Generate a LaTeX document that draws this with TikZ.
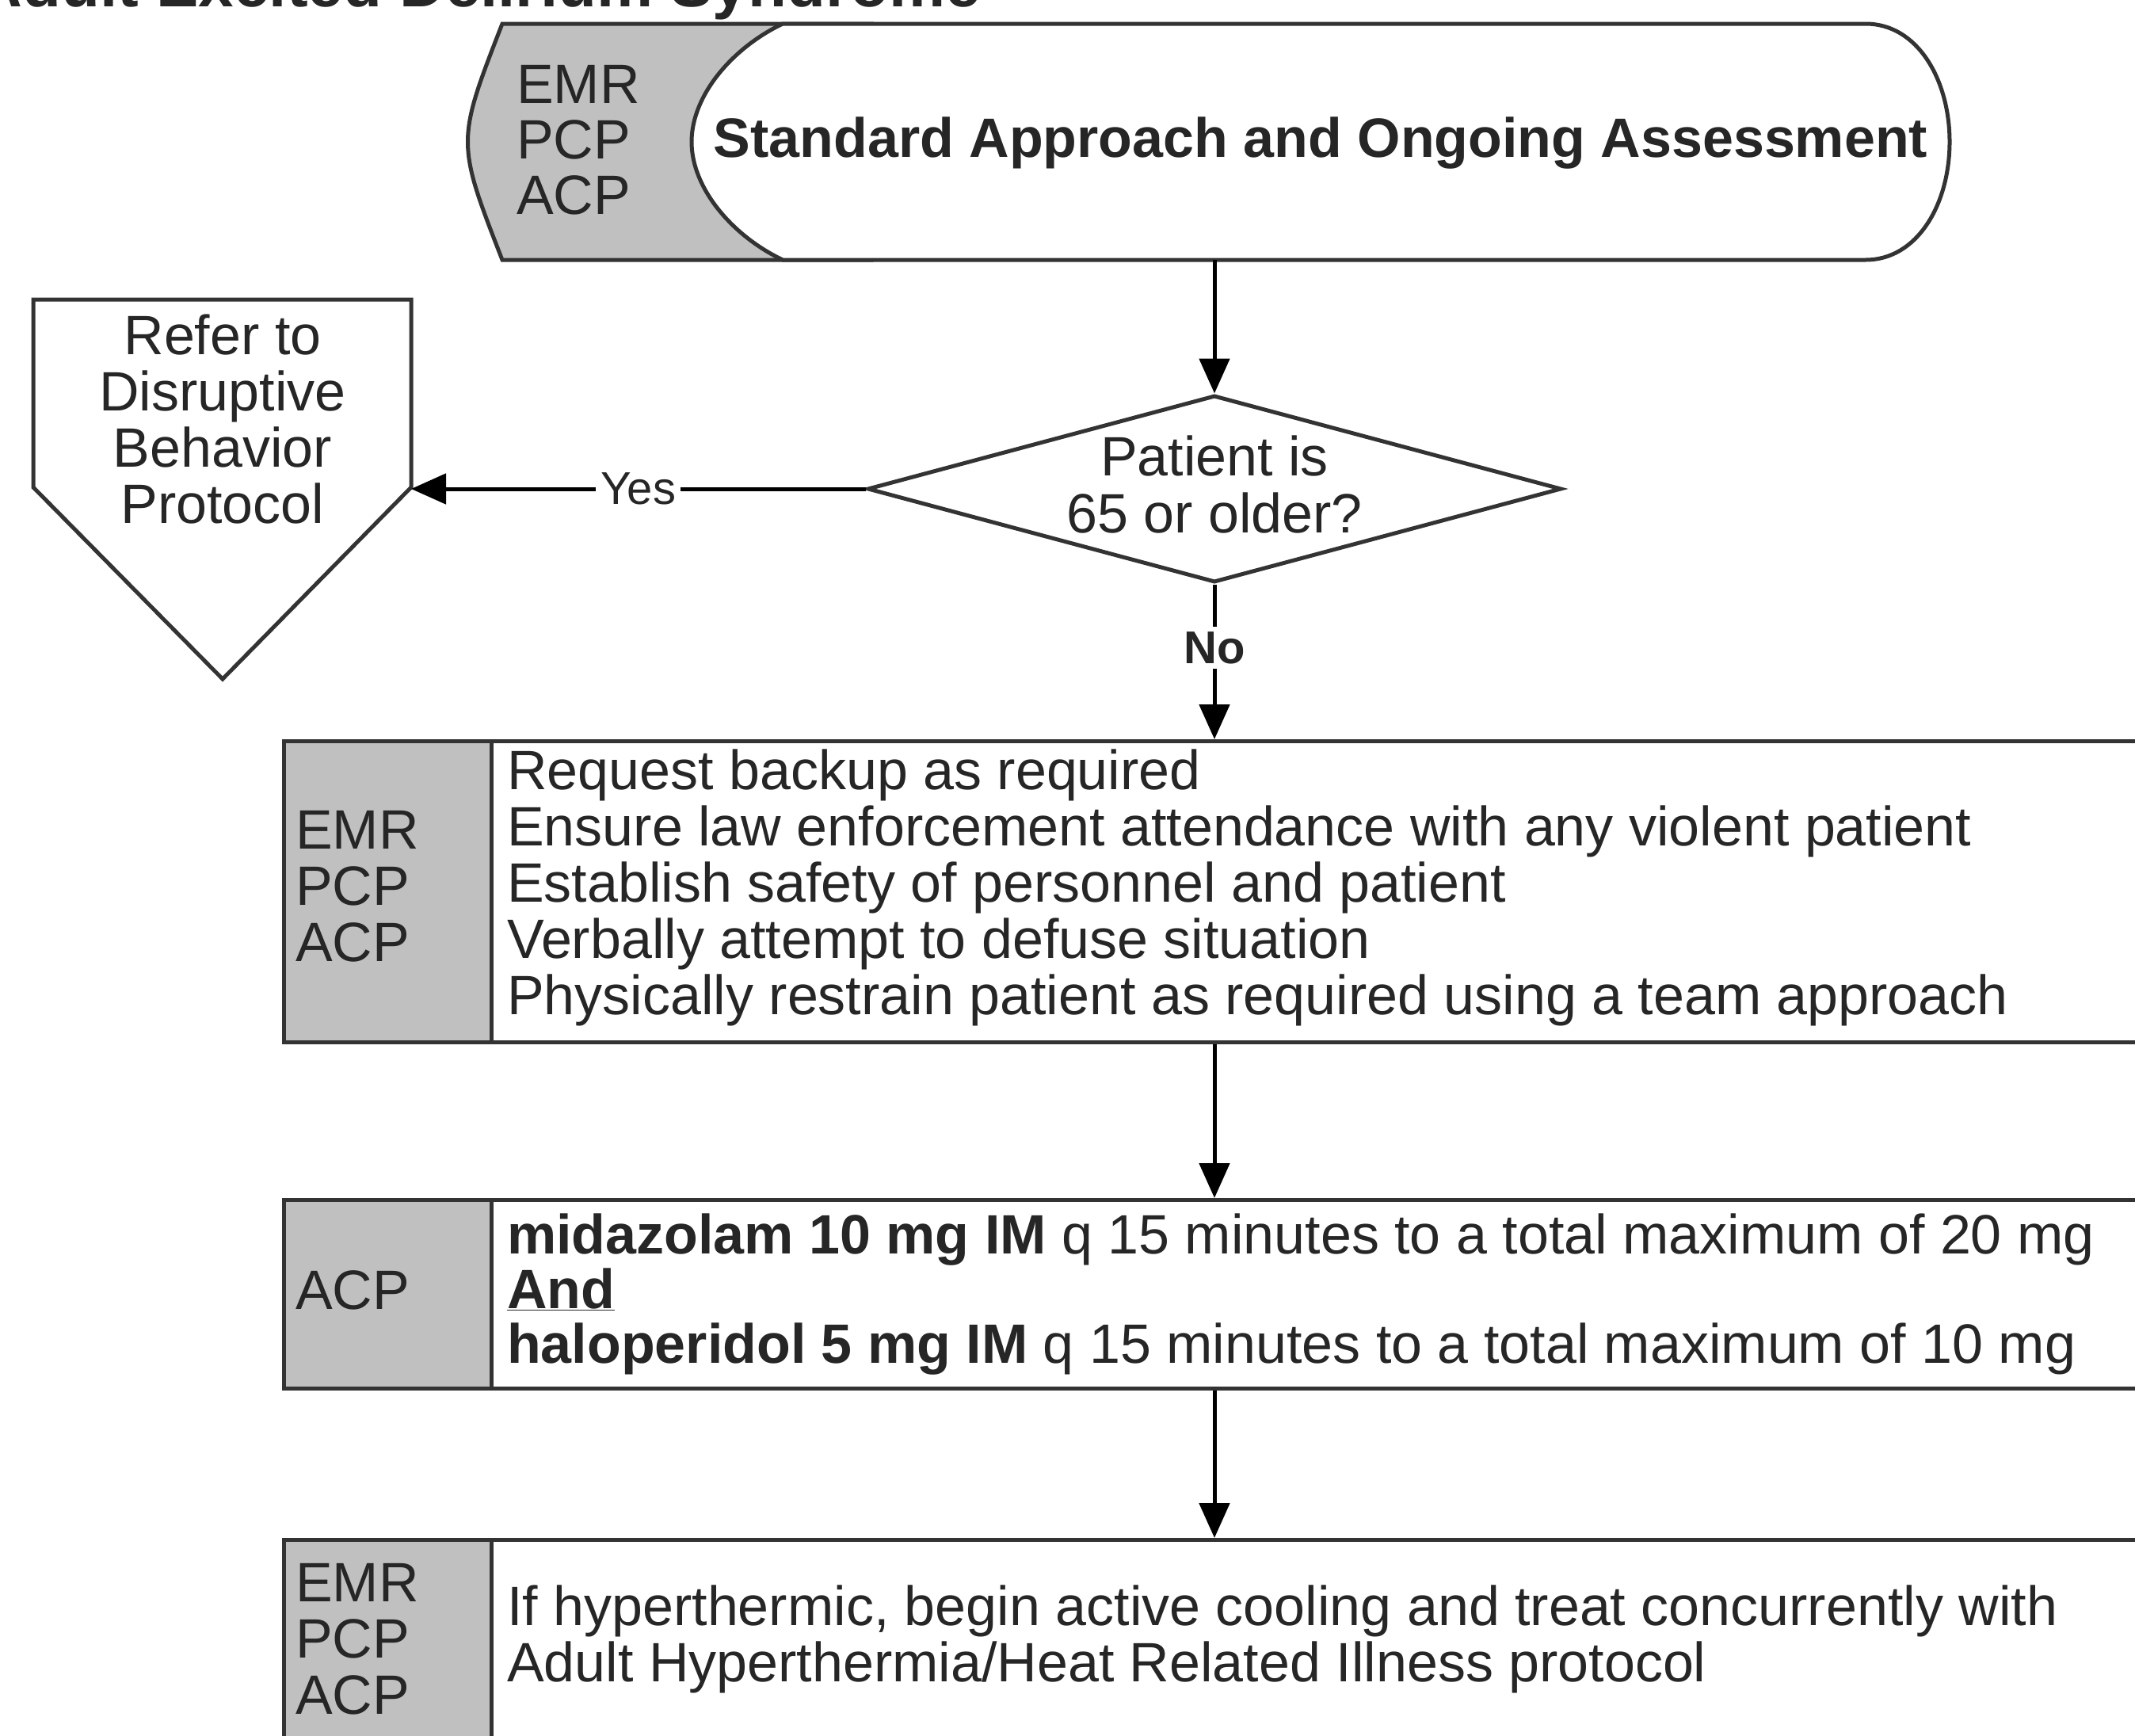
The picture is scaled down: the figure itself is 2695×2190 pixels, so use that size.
\documentclass[tikz,border=0pt]{standalone}
\usepackage{fontspec}
\setmainfont{Liberation Sans}
\usetikzlibrary{arrows.meta,shapes.geometric}
\definecolor{lanegray}{RGB}{192,192,192}
\definecolor{edge}{RGB}{51,51,51}
\definecolor{ink}{RGB}{38,38,38}
\begin{document}
\begin{tikzpicture}[x=1pt,y=-1pt,
  shapeline/.style={draw=edge, line width=5pt, line join=miter},
  rolefill/.style={shapeline, fill=lanegray, rectangle, inner sep=0pt, anchor=north west},
  stepfill/.style={shapeline, fill=white, rectangle, inner sep=0pt, anchor=north west},
  body/.style={font=\fontsize{70}{71}\selectfont, text=ink, inner sep=0pt},
  bodyb/.style={font=\fontsize{70}{71}\selectfont\bfseries, text=ink, inner sep=0pt},
  flow/.style={draw=black, line width=5pt, -{Triangle[length=44pt,width=38pt]}},
  tag/.style={font=\fontsize{58}{60}\selectfont, text=ink, fill=white, inner sep=6pt},
]
\useasboundingbox (0,0) rectangle (2695,2190);
\clip (0,0) rectangle (2695,2190);

% heading, running off the top edge
\node[font=\fontsize{80}{80}\selectfont\bfseries, text=ink, anchor=base east, inner sep=0pt]
  (title) at (1238,8) {Adult Excited Delirium Syndrome};

% ---------- start terminator ----------
\path[shapeline, fill=lanegray] (634,30) -- (1100,30) -- (1100,328) -- (634,328)
  .. controls (576,179) .. (634,30) -- cycle;
\path[shapeline, fill=white] (988,30) -- (2355,30)
  .. controls (2420,30) and (2461,100) .. (2461,179)
  .. controls (2461,258) and (2420,328) .. (2355,328) -- (988,328)
  .. controls (925,298) and (873,238) .. (873,179)
  .. controls (873,120) and (925,60) .. (988,30) -- cycle;
\node[minimum width=1588pt, minimum height=298pt, inner sep=0pt] (start) at (1667,179) {};
\node[bodyb, anchor=base] (start-text) at (1667,198) {Standard Approach and Ongoing Assessment};
\foreach \lbl/\yy [count=\i] in {EMR/130, PCP/200, ACP/270}
  \node[body, anchor=base west] (start-role\i) at (652,\yy) {\lbl};

% ---------- decision ----------
\node[diamond, shapeline, fill=white, minimum width=876pt, minimum height=236pt, inner sep=0pt]
  (q) at (1533,617) {};
\node[body, anchor=base] (q-line1) at (1533,600) {Patient is};
\node[body, anchor=base] (q-line2) at (1533,672) {65 or older?};

% ---------- off-page reference ----------
\path[shapeline, fill=white] (42,378) -- (519,378) -- (519,615) -- (281,857) -- (42,615) -- cycle;
\coordinate (refer-in) at (519,617);
\foreach \txt/\yy [count=\i] in {Refer to/447, Disruptive/518, Behavior/589, Protocol/660}
  \node[body, anchor=base] (refer-line\i) at (281,\yy) {\txt};

% ---------- step 1 ----------
\node[stepfill, minimum width=2400pt, minimum height=380pt] (box1) at (356,933) {};
\node[rolefill, minimum width=262pt, minimum height=380pt] (box1-role) at (356,933) {};
\foreach \lbl/\yy [count=\i] in {EMR/1071, PCP/1142, ACP/1213}
  \node[body, anchor=base west] (box1-role\i) at (373,\yy) {\lbl};
\foreach \txt/\yy [count=\i] in {
    Request backup as required/996,
    Ensure law enforcement attendance with any violent patient/1067,
    Establish safety of personnel and patient/1138,
    Verbally attempt to defuse situation/1209,
    Physically restrain patient as required using a team approach/1280}
  \node[body, anchor=base west] (box1-line\i) at (640,\yy) {\txt};

% ---------- step 2 ----------
\node[stepfill, minimum width=2400pt, minimum height=238pt] (box2) at (356,1512) {};
\node[rolefill, minimum width=262pt, minimum height=238pt] (box2-role) at (356,1512) {};
\node[body, anchor=base west] (box2-role1) at (373,1652) {ACP};
\node[body, anchor=base west] (box2-line1) at (640,1582)
  {\textbf{midazolam 10 mg IM} q 15 minutes to a total maximum of 20 mg};
\node[body, anchor=base west] (box2-line2) at (640,1651) {\underline{\textbf{And}}};
\node[body, anchor=base west] (box2-line3) at (640,1720)
  {\textbf{haloperidol 5 mg IM} q 15 minutes to a total maximum of 10 mg};

% ---------- step 3 ----------
\node[stepfill, minimum width=2400pt, minimum height=320pt] (box3) at (356,1941) {};
\node[rolefill, minimum width=262pt, minimum height=320pt] (box3-role) at (356,1941) {};
\foreach \lbl/\yy [count=\i] in {EMR/2021, PCP/2092, ACP/2163}
  \node[body, anchor=base west] (box3-role\i) at (373,\yy) {\lbl};
\node[body, anchor=base west] (box3-line1) at (640,2051)
  {If hyperthermic, begin active cooling and treat concurrently with};
\node[body, anchor=base west] (box3-line2) at (640,2122)
  {Adult Hyperthermia/Heat Related Illness protocol};

% ---------- connectors ----------
\draw[flow] (start.south -| q.north) -- (q.north);
\draw[flow] (q.west) -- node[tag, pos=0.5] (yes) {Yes} (refer-in);
\draw[flow] (q.south) -- node[tag, pos=0.41, font=\fontsize{58}{60}\selectfont\bfseries] (no) {No}
  (q.south |- box1.north);
\draw[flow] (box1.south -| q.south) -- (box2.north -| q.south);
\draw[flow] (box2.south -| q.south) -- (box3.north -| q.south);
\end{tikzpicture}
\end{document}
